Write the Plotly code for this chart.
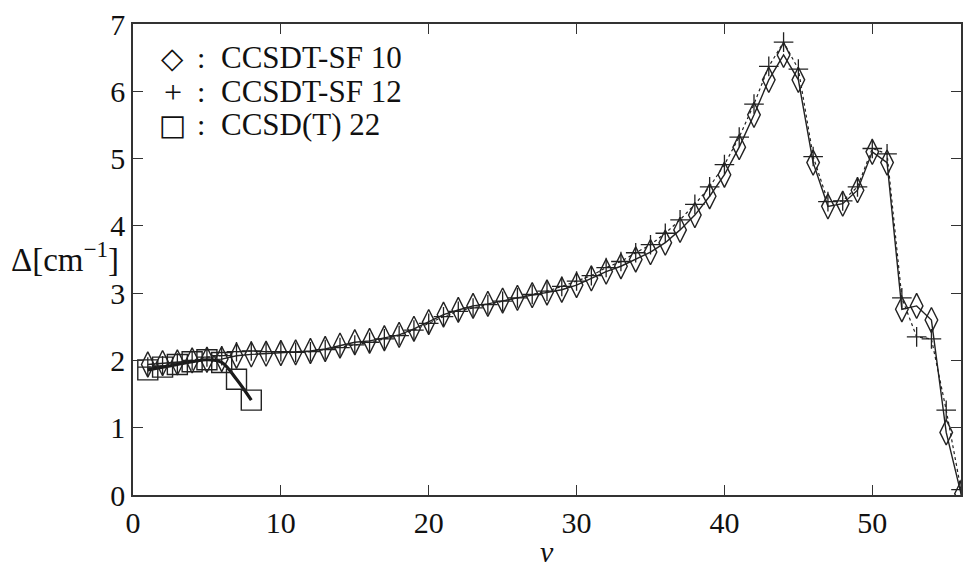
import plotly.graph_objects as go

# Vibrational level index
nu = list(range(1, 57))

# Energy differences Δ [cm^-1] for each method
ccsdt_sf10 = [1.94, 1.96, 1.97, 2.00, 2.01, 2.02, 2.07, 2.09, 2.10, 2.11,
              2.12, 2.14, 2.17, 2.22, 2.27, 2.29, 2.33, 2.38, 2.47, 2.57,
              2.68, 2.75, 2.81, 2.84, 2.89, 2.93, 2.97, 3.01, 3.05, 3.12,
              3.22, 3.32, 3.40, 3.50, 3.61, 3.75, 3.94, 4.16, 4.44, 4.76,
              5.17, 5.65, 6.17, 6.54, 6.17, 4.94, 4.29, 4.33, 4.53, 5.10,
              4.94, 2.76, 2.81, 2.60, 0.93, 0.02]

ccsdt_sf12 = [1.90, 1.92, 1.96, 2.00, 2.05, 2.07, 2.13, 2.14, 2.13, 2.13,
              2.12, 2.13, 2.16, 2.19, 2.23, 2.27, 2.32, 2.37, 2.45, 2.55,
              2.65, 2.73, 2.78, 2.83, 2.88, 2.93, 2.98, 3.03, 3.10, 3.18,
              3.26, 3.38, 3.47, 3.60, 3.72, 3.89, 4.09, 4.32, 4.58, 4.91,
              5.32, 5.81, 6.37, 6.73, 6.33, 5.03, 4.36, 4.37, 4.58, 5.15,
              5.07, 2.93, 2.35, 2.32, 1.26, 0.08]

nu_ccsd_t = [1, 2, 3, 4, 5, 6, 7, 8]
ccsd_t_22 = [1.86, 1.90, 1.94, 1.98, 2.01, 1.97, 1.72, 1.41]

x_ticks = [0, 10, 20, 30, 40, 50]
y_ticks = [0, 1, 2, 3, 4, 5, 6, 7]

legend_symbols = ["\u25c7", "+", "\u25a1"]
legend_labels = ["CCSDT-SF 10", "CCSDT-SF 12", "CCSD(T) 22"]

INK = "#222222"
TEXT = "#111111"
SERIF = "Liberation Serif, DejaVu Serif, serif"

W, H = 965, 567
L, R, T, B = 133, 2, 24, 72

fig = go.Figure()

# CCSDT-SF 12: dotted connecting line with thin crosses
fig.add_trace(go.Scatter(
    x=nu, y=ccsdt_sf12, mode="lines+markers",
    line=dict(color=INK, width=1.2, dash="dot"),
    marker=dict(symbol="cross-thin-open", size=14, color=INK,
                line=dict(color=INK, width=1.3)),
    showlegend=False))

# CCSDT-SF 10: thin solid line with tall open diamonds
fig.add_trace(go.Scatter(
    x=nu, y=ccsdt_sf10, mode="lines+markers",
    line=dict(color=INK, width=1.4),
    marker=dict(symbol="diamond-tall-open", size=18, color=INK,
                line=dict(color=INK, width=1.4)),
    showlegend=False))

# CCSD(T) 22: thick smooth curve and open squares
fig.add_trace(go.Scatter(
    x=nu_ccsd_t, y=ccsd_t_22, mode="lines",
    line=dict(color="#1a1a1a", width=3.2, shape="spline", smoothing=1.0),
    showlegend=False))
fig.add_trace(go.Scatter(
    x=nu_ccsd_t, y=ccsd_t_22, mode="markers",
    marker=dict(symbol="square-open", size=20, color=INK,
                line=dict(color=INK, width=1.4)),
    showlegend=False))

pw = W - L - R
ph = H - T - B


def px_x(p):
    return (p - L) / pw


def px_y(p):
    return (H - B - p) / ph


def note(x, y, text, size, anchor="left", family=SERIF):
    return dict(x=px_x(x), y=px_y(y), xref="paper", yref="paper",
                xanchor=anchor, yanchor="middle", showarrow=False,
                text=text, font=dict(family=family, size=size, color=TEXT))


annotations = []
row_y = [58, 92, 125]
sym_fonts = ["DejaVu Sans, sans-serif", SERIF, "DejaVu Sans, sans-serif"]
sym_sizes = [29, 32, 29]
for sym, lab, yy, fam, sz in zip(legend_symbols, legend_labels, row_y,
                                 sym_fonts, sym_sizes):
    annotations.append(note(173, yy, sym, sz, anchor="center", family=fam))
    annotations.append(note(201, yy, ":", 30, anchor="center"))
    annotations.append(note(219, yy, lab, 31))

annotations.append(note(121, 257, "\u0394[cm<sup>\u22121</sup>]", 33,
                        anchor="right"))
annotations.append(note(548, 551, "<i>\u03bd</i>", 30, anchor="center"))

axis_common = dict(
    showgrid=False, zeroline=False, showline=True, linecolor="#333",
    linewidth=1.5, mirror="ticks", ticks="inside", ticklen=10,
    tickwidth=1.3, tickcolor="#333",
    tickfont=dict(family=SERIF, size=30, color=TEXT))

fig.update_layout(
    width=W, height=H,
    margin=dict(l=L, r=R, t=T, b=B),
    paper_bgcolor="white", plot_bgcolor="white",
    xaxis=dict(range=[0, 56], tickvals=x_ticks, **axis_common),
    yaxis=dict(range=[0, 7], tickvals=y_ticks, **axis_common),
    annotations=annotations,
    showlegend=False)

fig.write_html("out.html")
